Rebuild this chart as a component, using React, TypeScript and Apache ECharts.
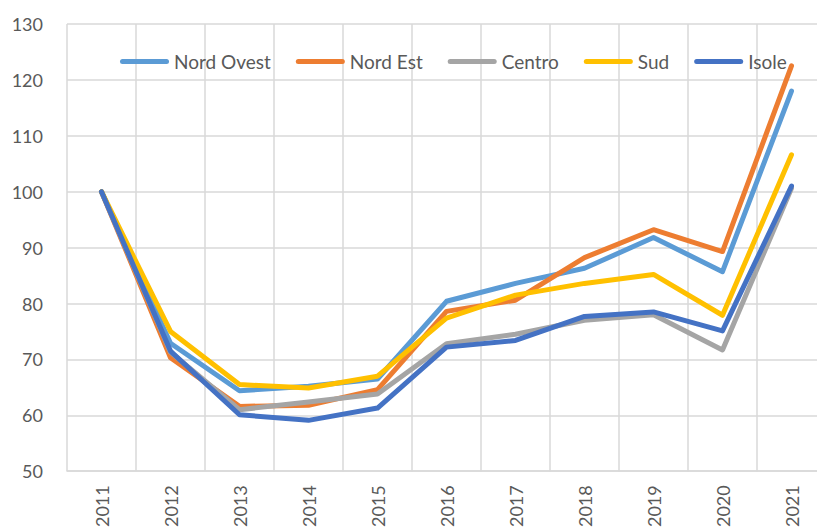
import React, { useEffect, useRef } from "react";
import * as echarts from "echarts";

const years = ["2011", "2012", "2013", "2014", "2015", "2016", "2017", "2018", "2019", "2020", "2021"];
const nordOvest = [100, 72.9, 64.4, 65.2, 66.5, 80.4, 83.6, 86.3, 91.8, 85.7, 118.0];
const nordEst = [100, 70.3, 61.6, 61.8, 64.6, 78.6, 80.6, 88.2, 93.2, 89.3, 122.5];
const centro = [100, 71.3, 61.0, 62.4, 63.8, 72.8, 74.5, 77.0, 78.0, 71.7, 100.6];
const sud = [100, 75.0, 65.5, 64.9, 67.0, 77.4, 81.5, 83.6, 85.2, 77.9, 106.6];
const isole = [100, 71.5, 60.1, 59.1, 61.3, 72.2, 73.4, 77.7, 78.5, 75.1, 101.0];

const seriesDefs = [
  { name: "Nord Ovest", data: nordOvest, color: "#5B9BD5" },
  { name: "Nord Est", data: nordEst, color: "#ED7D31" },
  { name: "Centro", data: centro, color: "#A5A5A5" },
  { name: "Sud", data: sud, color: "#FFC000" },
  { name: "Isole", data: isole, color: "#4472C4" },
];

const FONT = "Lato, 'Noto Sans', sans-serif";
const CAPSULE = "path://M2.5,0 H46.5 A2.5,2.5 0 0 1 46.5,5 H2.5 A2.5,2.5 0 0 1 2.5,0 Z";

export default function App() {
  const ref = useRef<HTMLDivElement>(null);
  useEffect(() => {
    if (!ref.current) return;
    const chart = echarts.init(ref.current, undefined, { renderer: "svg" });
    chart.setOption({
      animation: false,
      backgroundColor: "#ffffff",
      grid: { left: 67, top: 24, bottom: 56, right: 0, containLabel: false },
      legend: {
        left: 120,
        top: 52,
        padding: 0,
        icon: CAPSULE,
        itemWidth: 49,
        itemHeight: 5,
        itemGap: 25,
        textStyle: { fontFamily: FONT, fontSize: 19, color: "#595959" },
        data: seriesDefs.map((s) => s.name),
      },
      xAxis: {
        type: "category",
        data: years,
        boundaryGap: true,
        axisLine: { show: true, lineStyle: { color: "#D9D9D9", width: 1.5 } },
        axisTick: { show: false },
        axisLabel: {
          rotate: 90,
          margin: 14,
          fontFamily: FONT,
          fontSize: 18,
          color: "#595959",
        },
        splitLine: { show: true, lineStyle: { color: "#D9D9D9", width: 1.5 } },
      },
      yAxis: {
        type: "value",
        min: 50,
        max: 130,
        interval: 10,
        axisLine: { show: false },
        axisTick: { show: false },
        axisLabel: { margin: 24, fontFamily: FONT, fontSize: 18, color: "#595959" },
        splitLine: { show: true, lineStyle: { color: "#D9D9D9", width: 1.5 } },
      },
      series: seriesDefs.map((s) => ({
        name: s.name,
        type: "line",
        data: s.data,
        symbol: "none",
        color: s.color,
        itemStyle: { color: s.color },
        lineStyle: { color: s.color, width: 5, cap: "round", join: "round" },
      })),
    });
    return () => chart.dispose();
  }, []);
  return (
    <div style={{ position: "fixed", left: 0, top: 0, width: 817, height: 530, overflow: "hidden", background: "#fff" }}>
      <div ref={ref} style={{ width: 826, height: 530 }} />
    </div>
  );
}
